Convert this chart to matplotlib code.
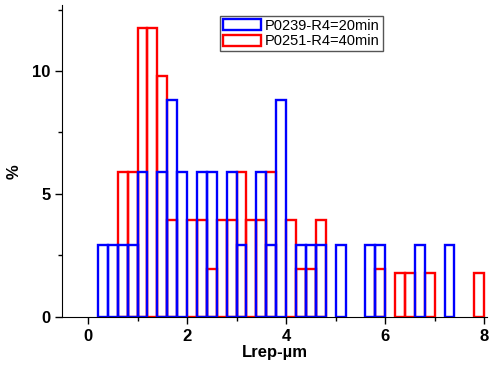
import numpy as np
import matplotlib
matplotlib.use("Agg")
from matplotlib import pyplot as plt
from matplotlib.patches import Patch
from matplotlib.ticker import MultipleLocator

plt.rcParams['font.family'] = ['Liberation Sans', 'DejaVu Sans']

# left edges of 0.2-wide bins and percent values
blue_edges = [0.2, 0.4, 0.6, 0.8, 1.0, 1.4, 1.6, 1.8, 2.2, 2.4, 2.8, 3.0,
              3.4, 3.6, 3.8, 4.2, 4.4, 4.6, 5.0, 5.6, 5.8, 6.6, 7.2]
blue_pct = [2.94, 2.94, 2.94, 2.94, 5.88, 5.88, 8.82, 5.88, 5.88, 5.88, 5.88, 2.94,
            5.88, 2.94, 8.82, 2.94, 2.94, 2.94, 2.94, 2.94, 2.94, 2.94, 2.94]

red_edges = [0.6, 0.8, 1.0, 1.2, 1.4, 1.6, 2.0, 2.2, 2.4, 2.6, 2.8, 3.0,
             3.2, 3.4, 3.6, 4.0, 4.2, 4.4, 4.6, 5.8, 6.2, 6.4, 6.8, 7.8]
red_pct = [5.88, 5.88, 11.76, 11.76, 9.80, 3.92, 3.92, 3.92, 1.96, 3.92, 3.92, 5.88,
           3.92, 3.92, 5.88, 3.92, 1.96, 1.96, 3.92, 1.96, 1.8, 1.8, 1.8, 1.8]

bin_w = 0.2
labels = ['P0239-R4=20min', 'P0251-R4=40min']

fig = plt.figure(figsize=(4.91, 3.68), dpi=100)
ax = fig.add_axes([0.127, 0.139, 0.865, 0.847])

ax.bar(red_edges, red_pct, width=bin_w, align='edge', fill=False,
       edgecolor='#ff0000', linewidth=1.7)
ax.bar(blue_edges, blue_pct, width=bin_w, align='edge', fill=False,
       edgecolor='#0000ff', linewidth=1.7)

ax.set_xlim(-0.52, 8.06)
ax.set_ylim(0, 12.68)

ax.xaxis.set_major_locator(MultipleLocator(2))
ax.xaxis.set_minor_locator(MultipleLocator(1))
ax.yaxis.set_major_locator(MultipleLocator(5))
ax.yaxis.set_minor_locator(MultipleLocator(2.5))
ax.tick_params(which='major', direction='out', length=5, width=1, labelsize=12)
ax.tick_params(which='minor', direction='out', length=3, width=1)
for lab in ax.get_xticklabels() + ax.get_yticklabels():
    lab.set_fontweight('bold')

ax.spines['top'].set_visible(False)
ax.spines['right'].set_visible(False)

ax.set_xlabel('Lrep-µm', fontsize=12, fontweight='bold', labelpad=1)
ax.set_ylabel('%', fontsize=12, fontweight='bold')
ax.yaxis.set_label_coords(-0.095, 0.465)

handles = [Patch(facecolor='none', edgecolor='#0000ff', linewidth=1.7),
           Patch(facecolor='none', edgecolor='#ff0000', linewidth=1.7)]
leg = ax.legend(handles, labels, loc='upper left',
                bbox_to_anchor=(0.448, 0.957), bbox_transform=fig.transFigure,
                borderaxespad=0, fontsize=10.5, fancybox=False, framealpha=1,
                edgecolor='#555555', handlelength=2.6, handleheight=0.8,
                handletextpad=0.3, borderpad=0.2, labelspacing=0.1)
leg.get_frame().set_linewidth(1)

fig.savefig('out.png', dpi=100)
